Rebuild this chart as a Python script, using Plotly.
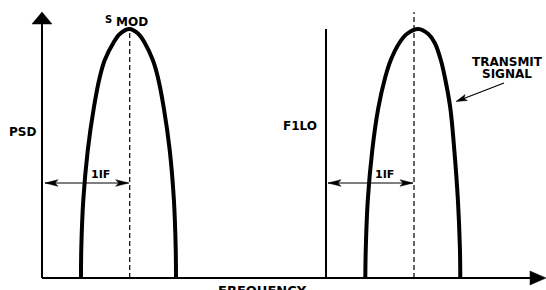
import plotly.graph_objects as go

# ---- data (x = frequency offset, y = PSD height) ----
curve_heights = [0, 30, 78, 128, 170, 201, 218, 235, 244, 249]
left_rise_x = [39, 39.3, 41.3, 45.8, 51.8, 57.8, 62.8, 71.3, 77.8, 87.3]
left_fall_x = [134, 133.7, 131.9, 127.7, 121.8, 115.8, 110.8, 102.8, 96.5, 87.3]
right_rise_x = [323.3, 323.8, 325.8, 330.3, 336.3, 343.3, 348.8, 357.3, 364.8, 376.3]
right_fall_x = [418.3, 417.9, 415.9, 412.3, 408.3, 402.8, 398.8, 392.8, 386.3, 376.3]

center_left = 87.7      # dashed centre line of S_MOD
center_right = 372      # dashed centre line of transmit signal
lo_freq = 284           # F1LO line
lo_height = 249
dash_left_top = 249
dash_right_top = 266
if_arrow_y = 95
x_axis_end = 504
y_axis_end = 266

labels = {
    "psd": "PSD",
    "lo": "F1LO",
    "if": "1IF",
    "s": "S",
    "mod": "MOD",
    "tx1": "TRANSMIT",
    "tx2": "SIGNAL",
    "freq": "FREQUENCY",
}

FONT = "DejaVu Sans"

fig = go.Figure()
for rise, fall in [(left_rise_x, left_fall_x), (right_rise_x, right_fall_x)]:
    xs = rise + fall[::-1][1:]
    ys = curve_heights + curve_heights[::-1][1:]
    fig.add_trace(go.Scatter(x=xs, y=ys, mode="lines",
                             line=dict(color="black", width=4, shape="spline", smoothing=1.0),
                             hoverinfo="skip", showlegend=False))

shapes = []


def line(x0, y0, x1, y1, width=2, dash="solid"):
    shapes.append(dict(type="line", xref="x", yref="y", x0=x0, y0=y0, x1=x1, y1=y1,
                       line=dict(color="black", width=width, dash=dash)))


def head(tx, ty, dx, dy, length=13, half=3.3, notch=3):
    n = (dx * dx + dy * dy) ** 0.5
    ux, uy = dx / n, dy / n
    px, py = -uy, ux
    bx, by = tx - ux * length, ty - uy * length
    nx, ny = tx - ux * (length - notch), ty - uy * (length - notch)
    p = (f"M{tx},{ty} L{bx + px * half},{by + py * half} L{nx},{ny} "
         f"L{bx - px * half},{by - py * half} Z")
    shapes.append(dict(type="path", xref="x", yref="y", path=p,
                       fillcolor="black", line=dict(color="black", width=0.5)))


# axes
line(0, 0, 0, y_axis_end - 11, width=2)
shapes.append(dict(type="path", xref="x", yref="y",
                   path=f"M0,{y_axis_end} L-10,{y_axis_end - 12} L10,{y_axis_end - 12} Z",
                   fillcolor="black", line=dict(color="black", width=0.5)))
line(0, 0, x_axis_end - 15, 0, width=2)
shapes.append(dict(type="path", xref="x", yref="y",
                   path=f"M{x_axis_end},0 L{x_axis_end - 16},7 L{x_axis_end - 16},-7 Z",
                   fillcolor="black", line=dict(color="black", width=0.5)))

# LO line
line(lo_freq, 0, lo_freq, lo_height, width=2)

# dashed centre lines
line(center_left, 0, center_left, dash_left_top, width=1.2, dash="5px,3px")
line(center_right, 0, center_right, dash_right_top, width=1.2, dash="5px,3px")

# IF double arrows
line(3, if_arrow_y, center_left - 1, if_arrow_y, width=1.2)
head(3, if_arrow_y, -1, 0)
head(center_left - 1, if_arrow_y, 1, 0)
line(lo_freq + 2, if_arrow_y, center_right - 1, if_arrow_y, width=1.2)
head(lo_freq + 2, if_arrow_y, -1, 0)
head(center_right - 1, if_arrow_y, 1, 0)

# transmit signal pointer
line(462, 195, 418, 178, width=1.2)
head(414, 176.5, -48, -18.5, length=11, half=3.2, notch=2.5)

fig.update_layout(shapes=shapes)

ann = []


def text(x, y, s, size=12, xanchor="center"):
    ann.append(dict(x=x, y=y, xref="x", yref="y", text=s, showarrow=False,
                    xanchor=xanchor, yanchor="middle",
                    font=dict(family=FONT, size=size, color="black")))


text(-20, 146, f"<b>{labels['psd']}</b>", 12)
text(257.5, 152, f"<b>{labels['lo']}</b>", 12)
text(58.3, 104, f"<b>{labels['if']}</b>", 11)
text(342, 104, f"<b>{labels['if']}</b>", 11)
text(66.5, 259, f"<b>{labels['s']}</b>", 10)
text(89.8, 256, f"<b>{labels['mod']}</b>", 12)
text(465, 216.5, f"<b>{labels['tx1']}</b>", 12)
text(465, 204.5, f"<b>{labels['tx2']}</b>", 12)
text(220.5, -12, f"<b>{labels['freq']}</b>", 13)
fig.update_layout(annotations=ann)

fig.update_layout(
    width=546, height=290,
    margin=dict(l=0, r=0, t=0, b=0),
    paper_bgcolor="white", plot_bgcolor="white",
    xaxis=dict(range=[-42, 504], visible=False, fixedrange=True),
    yaxis=dict(range=[-12, 278], visible=False, fixedrange=True),
    showlegend=False,
)
fig.write_html("out.html", config={"displayModeBar": False},
               post_script="document.body.style.margin='0px';document.body.style.overflow='hidden';")
